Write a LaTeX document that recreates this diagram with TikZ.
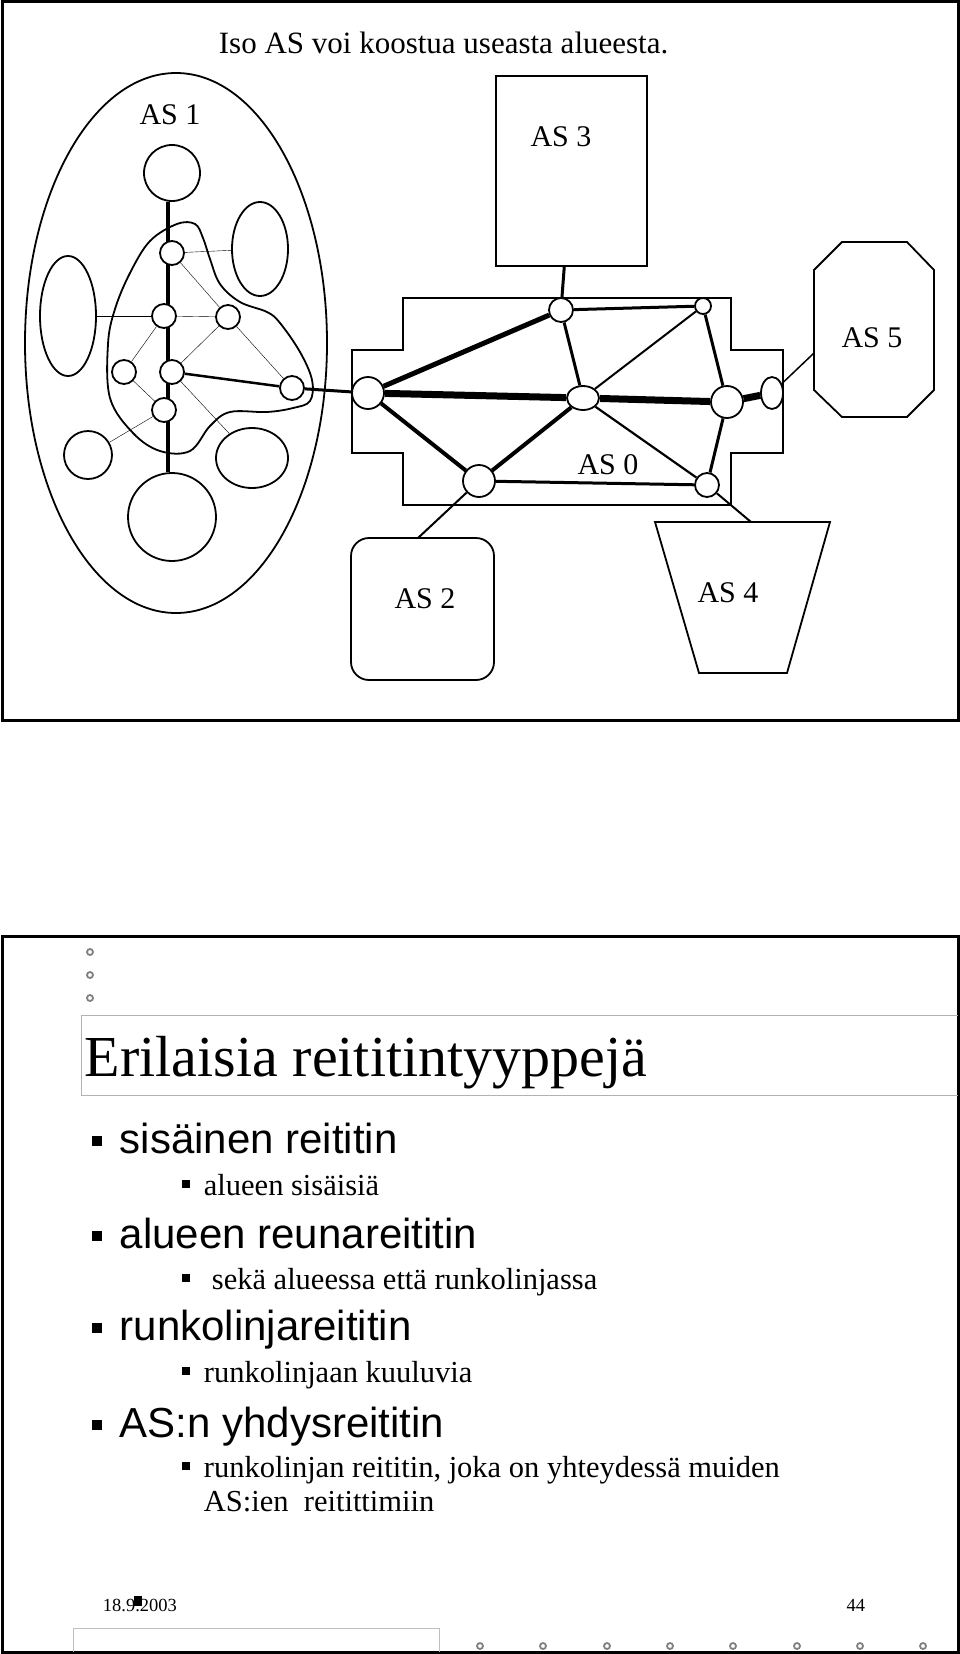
\documentclass[tikz,border=0pt]{standalone}
\usepackage{fontspec}
\setmainfont{Liberation Serif}
\setsansfont{Liberation Sans}
\usetikzlibrary{shapes.geometric,backgrounds,calc}

\tikzset{
  rtr/.style={ellipse, draw, fill=white, inner sep=0pt, minimum width=#1, minimum height=#1},
  lan/.style={ellipse, draw, fill=white, inner sep=0pt},
  aslabel/.style={font=\fontsize{30}{32}\selectfont, inner sep=0pt},
  bulleta/.style={fill=black, inner sep=0pt, minimum size=10pt},
  bulletb/.style={fill=black, inner sep=0pt, minimum size=7.5pt},
  txta/.style={font=\sffamily\fontsize{42}{44}\selectfont, anchor=base west, inner sep=0pt},
  txtb/.style={font=\fontsize{30.5}{32}\selectfont, anchor=base west, inner sep=0pt},
  dot/.style={circle, draw=gray, inner sep=0pt, minimum size=6pt},
}

\begin{document}
\begin{tikzpicture}[x=1pt, y=-1pt, line width=1.8pt]
\useasboundingbox (0,0) rectangle (960,1654);

% slide 1
\draw[line width=3pt] (2,2) rectangle (958,720);
\node[anchor=base west, inner sep=0pt, font=\fontsize{31}{32}\selectfont] (title1) at (218,53) {Iso AS voi koostua useasta alueesta.};

% AS 1
\node[ellipse, draw, minimum width=302pt, minimum height=540pt, inner sep=0pt] (as1) at (176,343) {};
\node[aslabel] (as1lbl) at (170,115) {AS 1};
\draw plot[smooth cycle, tension=0.6] coordinates {(195,224) (177,224) (150,241) (130,273) (115,309) (108,344) (110,398) (133,433) (160,451) (190,451) (210,426) (230,412) (267,412) (293,408) (310,401) (312,380) (300,352) (280,323) (267,312) (240,302) (220,284) (210,259) (203,238)};
\node[lan, minimum width=56pt, minimum height=56pt] (l1) at (172,173) {};
\node[lan, minimum width=56pt, minimum height=94pt] (l2) at (260,249) {};
\node[lan, minimum width=56pt, minimum height=120pt] (l3) at (68,316) {};
\node[lan, minimum width=48pt, minimum height=48pt] (l4) at (88,455) {};
\node[lan, minimum width=72pt, minimum height=60pt] (l5) at (252,458) {};
\node[lan, minimum width=88pt, minimum height=88pt] (l6) at (172,517) {};
\node[rtr=24pt] (r1) at (172,253) {};
\node[rtr=24pt] (r2) at (164,316) {};
\node[rtr=24pt] (r3) at (228,317) {};
\node[rtr=24pt] (r4) at (124,372) {};
\node[rtr=24pt] (r5) at (172,372) {};
\node[rtr=24pt] (r6) at (292,388) {};
\node[rtr=24pt] (r7) at (164,410) {};

% AS 0
\draw (403,298) -- (731,298) -- (731,350) -- (783,350) -- (783,453) -- (731,453) -- (731,505) -- (403,505) -- (403,453) -- (352,453) -- (352,350) -- (403,350) -- cycle;
\node[aslabel] (as0lbl) at (608,465) {AS 0};
\node[rtr=32pt] (b0) at (368,393) {};
\node[rtr=24pt] (b1) at (561,310) {};
\node[rtr=16pt] (b2) at (703,306) {};
\node[rtr=24pt, minimum width=32pt] (b3) at (583,398) {};
\node[rtr=32pt] (b4) at (727,402) {};
\node[rtr=32pt, minimum width=22pt] (b5) at (772,393) {};
\node[rtr=32pt] (b6) at (479,481) {};
\node[rtr=24pt] (b7) at (707,485) {};

% other AS
\node[draw, minimum width=151pt, minimum height=190pt, inner sep=0pt] (as3) at (571.5,171) {};
\node[aslabel] (as3lbl) at (561,137) {AS 3};
\draw (842,242) -- (907,242) -- (934,270) -- (934,390) -- (907,417) -- (842,417) -- (814,390) -- (814,270) -- cycle;
\coordinate (as5) at (814,353);
\node[aslabel] (as5lbl) at (872,338) {AS 5};
\draw (655,522) -- (830,522) -- (787,673) -- (699,673) -- cycle;
\coordinate (as4) at (751,522);
\node[aslabel] (as4lbl) at (728,593) {AS 4};
\draw[rounded corners=18pt] (351,538) rectangle (494,680);
\coordinate (as2) at (418,538);
\node[aslabel] (as2lbl) at (425,599) {AS 2};

\begin{scope}[on background layer]
\draw[line width=3.5pt] ($(l1.south)+(-4,0)$) -- ($(l6.north)+(-4,0)$);
\draw (r1) -- (l2); \draw (r1) -- (r3); \draw (r2) -- (r3); \draw (r2) -- (l3);
\draw (r2) -- (r4); \draw (r3) -- (r5); \draw (r3) -- (r6); \draw (r4) -- (r7);
\draw (r5) -- (l5); \draw (r7) -- (l4);
\draw[line width=2.5pt] (r5) -- (r6);
\draw[line width=3pt] (r6) -- (b0);
\draw[line width=5pt] (b0) -- (b1);
\draw[line width=7pt] (b0) -- (b3) -- (b4) -- (b5);
\draw[line width=4pt] (b0) -- (b6);
\draw[line width=4pt] (b6) -- (b3);
\draw[line width=3pt] (b1) -- (b2);
\draw[line width=3pt] (b1) -- (b3);
\draw[line width=2pt] (b2) -- (b3);
\draw[line width=3pt] (b2) -- (b4);
\draw[line width=2.2pt] (b3) -- (b7);
\draw[line width=3pt] (b4) -- (b7);
\draw[line width=3pt] (b6) -- (b7);
\draw[line width=3pt] (b1) -- (as3);
\draw[line width=1.5pt] (b5) -- (as5);
\draw[line width=2pt] (b7) -- (as4);
\draw[line width=2pt] (b6) -- (as2);
\end{scope}

% slide 2
\draw[line width=3pt] (2,936) rectangle (958,1652);
\foreach \y [count=\i] in {952,975,998} \node[dot] (d\i) at (90,\y) {};
\draw[gray!60, line width=1pt] (958,1015) -- (81,1015) -- (81,1095) -- (958,1095);
\node[anchor=base west, inner sep=0pt, font=\fontsize{58}{62}\selectfont] (title2) at (84,1076) {Erilaisia reititintyyppejä};

\node[txta] (t1) at (119,1153) {sisäinen reititin};
\node[txtb] (t2) at (203,1195) {alueen sisäisiä};
\node[txta] (t3) at (119,1248) {alueen reunareititin};
\node[txtb] (t4) at (211,1289) {sekä alueessa että runkolinjassa};
\node[txta] (t5) at (119,1340) {runkolinjareititin};
\node[txtb] (t6) at (203,1382) {runkolinjaan kuuluvia};
\node[txta] (t7) at (119,1437) {AS:n yhdysreititin};
\node[txtb] (t8) at (203,1477) {runkolinjan reititin, joka on yhteydessä muiden};
\node[txtb] (t9) at (203,1511) {AS:ien\ \ reitittimiin};
\foreach \t in {t1,t3,t5,t7} \node[bulleta] at ($(\t.base west)+(-22,-12)$) {};
\foreach \t in {t2,t6,t8} \node[bulletb] at ($(\t.base west)+(-17,-11)$) {};
\node[bulletb] at ($(t4.base west)+(-25,-11)$) {};

\node[anchor=base west, inner sep=0pt, font=\fontsize{18.5}{20}\selectfont] (date) at (102,1611) {18.9.2003};
\node[fill=black, inner sep=0pt, minimum width=8pt, minimum height=10pt] (sq) at (138,1601) {};
\node[anchor=base east, inner sep=0pt, font=\fontsize{18.5}{20}\selectfont] (page) at (866,1611) {44};
\draw[gray!50, line width=1pt] (73,1652) -- (73,1628) -- (439,1628) -- (439,1652);
\foreach \x [count=\i] in {480,543,607,670,733,797,860,923} \node[dot] (f\i) at (\x,1646) {};
\end{tikzpicture}
\end{document}
